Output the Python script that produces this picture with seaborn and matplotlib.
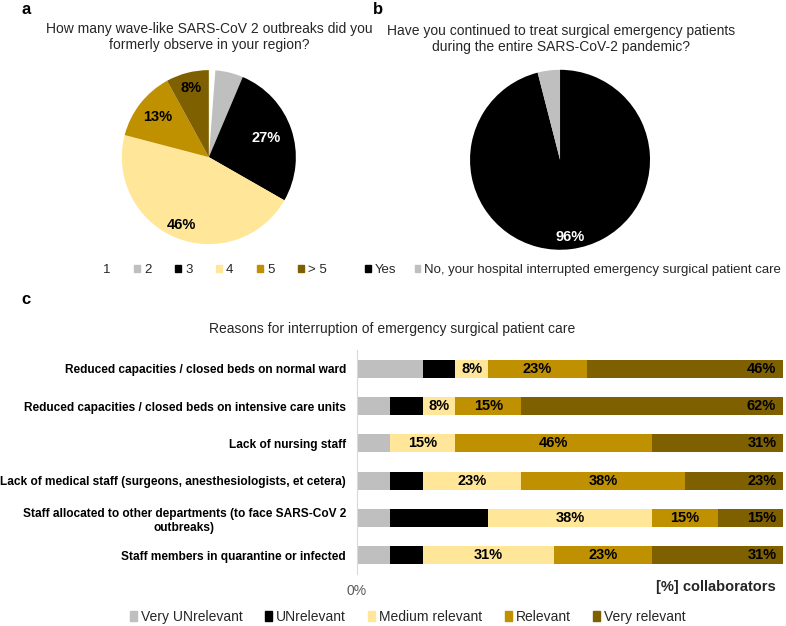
import numpy as np
import pandas as pd
import seaborn as sns
import matplotlib.pyplot as plt
from matplotlib.patches import Patch

# --- data -----------------------------------------------------------------
wave_labels = ["1", "2", "3", "4", "5", "> 5"]
wave_values = [1.2, 5.2, 27, 46, 13, 8]

treat_labels = ["Yes", "No, your hospital interrupted emergency surgical patient care"]
treat_values = [96, 4]

reasons = [
    "Reduced capacities / closed beds on normal ward",
    "Reduced capacities / closed beds on intensive care units",
    "Lack of nursing staff",
    "Lack of medical staff (surgeons, anesthesiologists, et cetera)",
    "Staff allocated to other departments (to face SARS-CoV 2\noutbreaks)",
    "Staff members in quarantine or infected",
]
levels = ["Very UNrelevant", "UNrelevant", "Medium relevant", "Relevant", "Very relevant"]
very_unrelevant = [15.4, 7.7, 7.7, 7.7, 7.7, 7.7]
unrelevant = [7.7, 7.7, 0.0, 7.7, 23.1, 7.7]
medium_relevant = [7.7, 7.7, 15.4, 23.1, 38.5, 30.8]
relevant = [23.1, 15.4, 46.2, 38.5, 15.4, 23.1]
very_relevant = [46.2, 61.5, 30.8, 23.1, 15.4, 30.8]

# --- style ----------------------------------------------------------------
sns.set_theme(style="white")
plt.rcParams['font.family'] = ['Liberation Sans', 'DejaVu Sans']

GRAY, BLACK, LIGHT, GOLD, DARK = "#BFBFBF", "#000000", "#FFE699", "#BF9000", "#7F6000"
wave_colors = ["#FFFFFF", GRAY, BLACK, LIGHT, GOLD, DARK]
treat_colors = [BLACK, GRAY]
level_colors = dict(zip(levels, [GRAY, BLACK, LIGHT, GOLD, DARK]))
TXT = "#262626"

fig = plt.figure(figsize=(7.86, 6.26), dpi=100)

# --- panel a --------------------------------------------------------------
ax_a = fig.add_axes([0.155, 0.610, 0.2214, 0.278])
wedges_a, _ = ax_a.pie(wave_values, colors=wave_colors, startangle=90,
                       counterclock=False, wedgeprops=dict(linewidth=0))
ax_a.set_xlim(-1, 1)
ax_a.set_ylim(-1, 1)
label_r = [None, None, 0.70, 0.84, 0.75, 0.82]
label_c = [None, None, "white", "black", "black", "black"]
for w, v, r, c in zip(wedges_a, wave_values, label_r, label_c):
    if r is None:
        continue
    th = np.deg2rad((w.theta1 + w.theta2) / 2)
    ax_a.text(r * np.cos(th), r * np.sin(th), f"{v:.0f}%", ha="center", va="center",
              fontsize=10.5, fontweight="bold", color=c)
fig.text(209 / 786, 1 - 37 / 626,
         "How many wave-like SARS-CoV 2 outbreaks did you\nformerly observe in your region?",
         ha="center", va="center", fontsize=10, color=TXT, linespacing=1.1)
fig.legend(handles=[Patch(color=c, label=l) for c, l in zip(wave_colors, wave_labels)],
           loc="center", bbox_to_anchor=(210 / 786, 1 - 270 / 626), ncol=6, frameon=False,
           fontsize=9.5, handlelength=0.45, handleheight=0.45, handletextpad=0.3,
           columnspacing=1.8, labelcolor=TXT)

# --- panel b --------------------------------------------------------------
ax_b = fig.add_axes([0.598, 0.601, 0.229, 0.2875])
wedges_b, _ = ax_b.pie(treat_values, colors=treat_colors, startangle=90,
                       counterclock=False, wedgeprops=dict(linewidth=0))
ax_b.set_xlim(-1, 1)
ax_b.set_ylim(-1, 1)
th = np.deg2rad((wedges_b[0].theta1 + wedges_b[0].theta2) / 2)
ax_b.text(0.87 * np.cos(th), 0.87 * np.sin(th), f"{treat_values[0]}%", ha="center",
          va="center", fontsize=10.5, fontweight="bold", color="white")
fig.text(561 / 786, 1 - 39 / 626,
         "Have you continued to treat surgical emergency patients\nduring the entire SARS-CoV-2 pandemic?",
         ha="center", va="center", fontsize=10, color=TXT, linespacing=1.1)
fig.legend(handles=[Patch(color=c, label=l) for c, l in zip(treat_colors, treat_labels)],
           loc="center", bbox_to_anchor=(573 / 786, 1 - 270 / 626), ncol=2, frameon=False,
           fontsize=9.5, handlelength=0.45, handleheight=0.45, handletextpad=0.25,
           columnspacing=1.4, labelcolor=TXT)

# --- panel c --------------------------------------------------------------
df = pd.DataFrame(dict(zip(levels, [very_unrelevant, unrelevant, medium_relevant,
                                    relevant, very_relevant])), index=reasons)
cum = df.cumsum(axis=1)

ax_c = fig.add_axes([357 / 786, 1 - 574 / 626, 426 / 786, 224 / 626])
for lev in reversed(levels):
    sns.barplot(x=cum[lev].values, y=reasons, color=level_colors[lev], orient="h",
                width=0.49, saturation=1, errorbar=None, linewidth=0, ax=ax_c)

for i, reason in enumerate(reasons):
    for lev in ["Medium relevant", "Relevant"]:
        v = df.loc[reason, lev]
        if v > 0:
            ax_c.text(cum.loc[reason, lev] - v / 2, i, f"{v:.0f}%", ha="center", va="center",
                      fontsize=10.5, fontweight="bold", color="black")
    v = df.loc[reason, "Very relevant"]
    ax_c.text(cum.loc[reason, "Very relevant"] - 1.6, i, f"{v:.0f}%", ha="right",
              va="center", fontsize=10.5, fontweight="bold", color="black")

ax_c.set_xlim(0, 100)
ax_c.set_ylim(len(reasons) - 0.5, -0.5)
ax_c.set_xticks([0])
ax_c.set_xticklabels(["0%"])
ax_c.tick_params(axis="x", length=0, pad=7, labelsize=10, labelcolor="#595959")
ax_c.tick_params(axis="y", length=0, pad=8, labelsize=8.6)
for lab in ax_c.get_yticklabels():
    lab.set_fontweight("bold")
    lab.set_multialignment("center")
    lab.set_linespacing(1.25)
    lab.set_color("black")
ax_c.set_xlabel("")
ax_c.set_ylabel("")
for s in ["top", "right", "bottom"]:
    ax_c.spines[s].set_visible(False)
ax_c.spines["left"].set_color("#D9D9D9")
ax_c.spines["left"].set_linewidth(0.8)

fig.text(776 / 786, 1 - 587 / 626, "[%] collaborators", ha="right", va="center",
         fontsize=10.5, fontweight="bold", color=TXT)
fig.text(392 / 786, 1 - 329 / 626, "Reasons for interruption of emergency surgical patient care",
         ha="center", va="center", fontsize=10, color=TXT)
fig.legend(handles=[Patch(color=level_colors[l], label=l) for l in levels],
           loc="center", bbox_to_anchor=(408 / 786, 1 - 617 / 626), ncol=5, frameon=False,
           fontsize=10, handlelength=0.5, handleheight=0.7, handletextpad=0.3,
           columnspacing=1.6, labelcolor=TXT)

# panel letters
for letter, x, y in [("a", 26, 9), ("b", 378, 9), ("c", 26, 300)]:
    fig.text(x / 786, 1 - y / 626, letter, ha="center", va="center", fontsize=12,
             fontweight="bold", color="black")

fig.savefig("out.png", dpi=100)
plt.close(fig)
